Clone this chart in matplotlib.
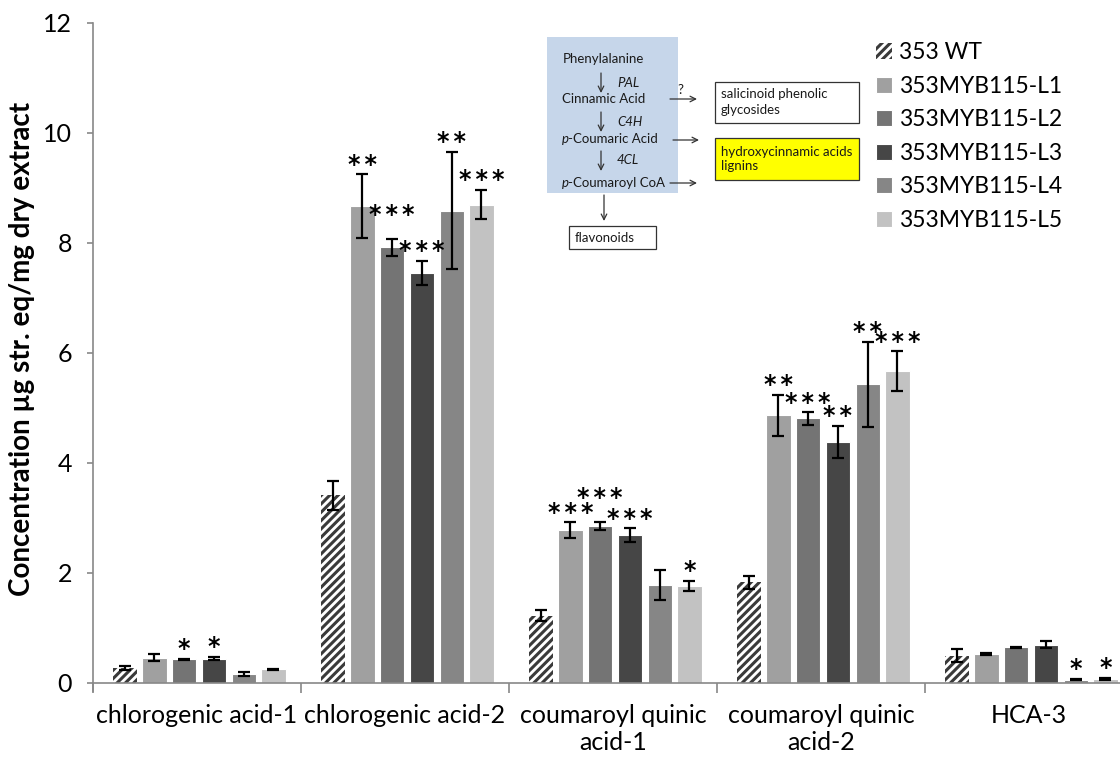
import numpy as np
import matplotlib
matplotlib.use("Agg")
import matplotlib.pyplot as plt
from matplotlib.patches import Rectangle

plt.rcParams["font.family"] = ["Lato", "DejaVu Sans"]
plt.rcParams["hatch.linewidth"] = 2.2

# ---- data ----
groups = ["chlorogenic acid-1", "chlorogenic acid-2", "coumaroyl quinic\nacid-1",
          "coumaroyl quinic\nacid-2", "HCA-3"]
lines = ["353 WT", "353MYB115-L1", "353MYB115-L2", "353MYB115-L3", "353MYB115-L4", "353MYB115-L5"]

wt     = [0.27, 3.41, 1.22, 1.83, 0.50]
wt_err = [0.04, 0.26, 0.10, 0.12, 0.11]
l1     = [0.46, 8.67, 2.78, 4.87, 0.53]
l1_err = [0.06, 0.58, 0.14, 0.37, 0.02]
l2     = [0.43, 7.92, 2.85, 4.81, 0.65]
l2_err = [0.01, 0.15, 0.07, 0.11, 0.01]
l3     = [0.44, 7.45, 2.69, 4.38, 0.70]
l3_err = [0.03, 0.22, 0.12, 0.29, 0.07]
l4     = [0.16, 8.59, 1.78, 5.43, 0.06]
l4_err = [0.04, 1.07, 0.27, 0.77, 0.01]
l5     = [0.25, 8.70, 1.77, 5.67, 0.08]
l5_err = [0.01, 0.26, 0.09, 0.36, 0.02]

# significance marks per line (one per group)
wt_sig = ["", "", "", "", ""]
l1_sig = ["", "**", "***", "**", ""]
l2_sig = ["*", "***", "***", "***", ""]
l3_sig = ["*", "***", "***", "**", ""]
l4_sig = ["", "**", "", "**", "*"]
l5_sig = ["", "***", "*", "***", "*"]
# marks set one row higher to clear a neighbour
lifted = [(2, 1), (2, 2)]   # (line index, group index)

means = [wt, l1, l2, l3, l4, l5]
errs = [wt_err, l1_err, l2_err, l3_err, l4_err, l5_err]
sigs = [wt_sig, l1_sig, l2_sig, l3_sig, l4_sig, l5_sig]
colors = ["white", "#a0a0a0", "#747474", "#464646", "#868686", "#c2c2c2"]

W, H = 1120, 759
fig = plt.figure(figsize=(W / 100, H / 100), dpi=100)
ax = fig.add_axes([93 / W, (H - 683) / H, 1040 / W, 660 / H])

x = np.arange(len(groups))
step, bw = 0.143, 0.116
for i, (m, e, c) in enumerate(zip(means, errs, colors)):
    pos = x + (i - 2.5) * step + 0.01
    if i == 0:
        ax.bar(pos, m, bw, color="white", edgecolor="#3a3a3a", lw=0, hatch="////",
               label=lines[i], zorder=2)
    else:
        ax.bar(pos, m, bw, color=c, edgecolor="white", lw=0.8, label=lines[i], zorder=2)
    ax.errorbar(pos, m, yerr=e, fmt="none", ecolor="black", elinewidth=1.6,
                capsize=4.3, capthick=1.6, zorder=3)
    for j, s in enumerate(sigs[i]):
        if not s:
            continue
        y = m[j] + e[j] + 0.05 + (0.27 if (i, j) in lifted else 0)
        ax.text(pos[j], y, "\u2006".join(s), ha="center", va="baseline", fontsize=17,
                family="DejaVu Sans", fontweight="bold", zorder=4)

ax.set_xlim(-0.5, 4.5)
ax.set_ylim(0, 12)
ax.set_yticks(range(0, 13, 2))
ax.set_xticks(np.arange(-0.5, 5, 1))
ax.set_xticklabels([])
ax.set_xticks(x, minor=True)
ax.set_xticklabels(groups, minor=True, fontsize=18, linespacing=1.2)
ax.tick_params(axis="x", which="minor", length=0, pad=15)
ax.tick_params(axis="x", which="major", length=7, color="#888888", width=1.2)
ax.tick_params(axis="y", length=4, color="#888888", width=1.2, labelsize=18, pad=11)
for side in ["top", "right"]:
    ax.spines[side].set_visible(False)
for side in ["left", "bottom"]:
    ax.spines[side].set_color("#888888")
    ax.spines[side].set_linewidth(1.2)
ax.spines["left"].set_bounds(-0.15, 12)

fig.text(22 / W, 1 - 349 / H, "Concentration µg str. eq/mg dry extract", fontsize=20,
         fontweight="bold", rotation=90, ha="center", va="center")

fig.legend(loc="upper left", bbox_to_anchor=(876 / W, 1 - 42 / H), frameon=False,
           fontsize=16.5, handlelength=0.7, handleheight=0.7, handletextpad=0.3,
           labelspacing=0.55, borderpad=0, borderaxespad=0)

# ---- pathway inset (pixel coords) ----
ov = fig.add_axes([0, 0, 1, 1], zorder=5)
ov.set_xlim(0, W)
ov.set_ylim(H, 0)
ov.axis("off")
ov.add_patch(Rectangle((547, 37), 131, 156, color="#c6d6ea", lw=0))
fs = 9.5
txt = dict(fontsize=fs, va="center", color="#1a1a1a")
ov.text(603, 59, "Phenylalanine", ha="center", **txt)
ov.text(562, 99, "Cinnamic Acid", ha="left", **txt)
ov.text(562, 139, "p", ha="left", style="italic", **txt)
ov.text(568, 139, "-Coumaric Acid", ha="left", **txt)
ov.text(562, 183, "p", ha="left", style="italic", **txt)
ov.text(568, 183, "-Coumaroyl CoA", ha="left", **txt)
ov.text(617, 83, "PAL", ha="left", style="italic", **txt)
ov.text(617, 122, "C4H", ha="left", style="italic", **txt)
ov.text(617, 160, "4CL", ha="left", style="italic", **txt)
ov.text(680, 90, "?", ha="center", **txt)

arrow = dict(arrowstyle="->", lw=0.9, color="#333333", shrinkA=0, shrinkB=0)
for y0, y1 in [(73, 93), (112, 132), (151, 171)]:
    ov.annotate("", xy=(601, y1), xytext=(601, y0), arrowprops=arrow)
ov.annotate("", xy=(604, 221), xytext=(604, 195), arrowprops=arrow)
for xa, xb, y in [(670, 697, 99), (673, 699, 140), (670, 697, 183)]:
    ov.annotate("", xy=(xb, y), xytext=(xa, y), arrowprops=arrow)

ov.add_patch(Rectangle((715, 82), 144, 41, fc="white", ec="#333333", lw=0.9))
ov.text(721, 102, "salicinoid phenolic\nglycosides", ha="left", linespacing=1.3, **txt)
ov.add_patch(Rectangle((715, 138), 144, 42, fc="#ffff00", ec="#333333", lw=0.9))
ov.text(721, 159, "hydroxycinnamic acids\nlignins", ha="left", linespacing=1.3, **txt)
ov.add_patch(Rectangle((569, 226), 87, 23, fc="white", ec="#333333", lw=0.9))
ov.text(575, 238, "flavonoids", ha="left", **txt)

fig.savefig("out.png", dpi=100)
